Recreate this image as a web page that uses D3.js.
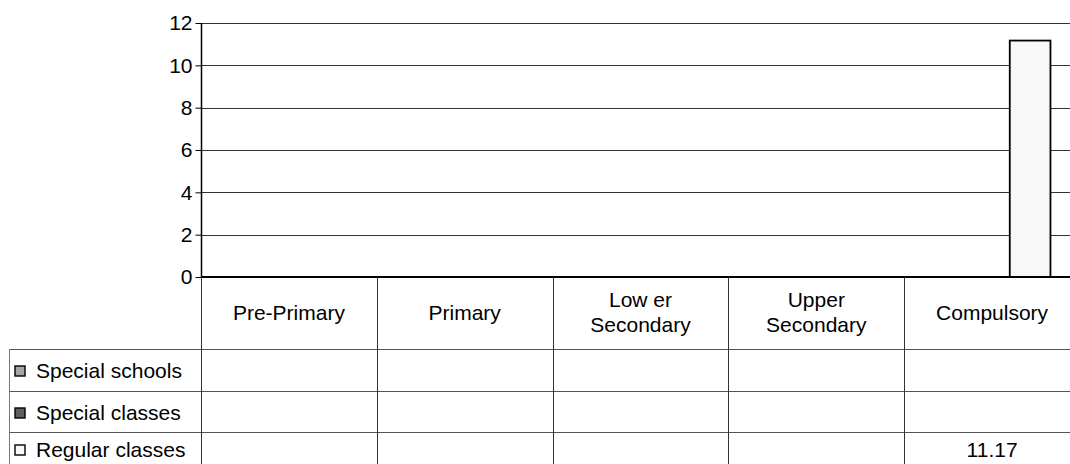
<!DOCTYPE html>
<html>
<head>
<meta charset="utf-8">
<script src="https://cdn.jsdelivr.net/npm/d3@7"></script>
<style>
  html, body { margin: 0; padding: 0; background: #fff; }
  svg { display: block; font-family: "Liberation Sans", Arial, sans-serif; }
</style>
</head>
<body>
<svg id="chart" width="1070" height="464"></svg>
<script>
// ---- data ----
const categories = ["Pre-Primary", "Primary", "Low er\nSecondary", "Upper\nSecondary", "Compulsory"];
const seriesNames = ["Special schools", "Special classes", "Regular classes"];
const specialSchools = [null, null, null, null, null];
const specialClasses = [null, null, null, null, null];
const regularClasses = [null, null, null, null, 11.17];
const yTicks = [0, 2, 4, 6, 8, 10, 12];
const seriesColors = ["#a6a6a6", "#5f5f5f", "#f8f8f8"];

const seriesValues = [specialSchools, specialClasses, regularClasses];

// ---- layout ----
const svg = d3.select("#chart");
const plotLeft = 201, plotRight = 1080, plotTop = 23, plotBottom = 277;
const headerBottom = 349, rowH = 41.7, legendLeft = 9;
const fontSize = 21;

const x = d3.scaleBand().domain(categories).range([plotLeft, plotRight]).paddingInner(0).paddingOuter(0);
const x1 = d3.scaleBand().domain(seriesNames).range([0, x.bandwidth()]).paddingInner(0).paddingOuter(0.66).align(0.45);
const y = d3.scaleLinear().domain([0, 12]).range([plotBottom, plotTop]);

// gridlines
svg.append("g").selectAll("line").data(yTicks.filter(d => d > 0)).join("line")
  .attr("x1", plotLeft).attr("x2", plotRight)
  .attr("y1", d => Math.round(y(d)) + 0.5).attr("y2", d => Math.round(y(d)) + 0.5)
  .attr("stroke", "#333").attr("stroke-width", 1);

// y axis
const yAxis = d3.axisLeft(y).tickValues(yTicks).tickSize(6).tickPadding(3).tickFormat(d3.format("d"));
const gy = svg.append("g").attr("transform", `translate(${plotLeft + 0.5},0)`).call(yAxis);
gy.select(".domain").attr("stroke", "#000").attr("stroke-width", 1.5).attr("d", `M0,${plotTop}V${plotBottom}`);
gy.selectAll(".tick line").attr("stroke", "#000");
gy.selectAll(".tick text").attr("font-size", fontSize).attr("fill", "#000")
  .attr("font-family", "Liberation Sans, Arial, sans-serif");

// bars
seriesNames.forEach((s, si) => {
  const vals = seriesValues[si];
  svg.append("g").selectAll("rect").data(categories.map((c, i) => ({c, v: vals[i]})).filter(d => d.v != null))
    .join("rect")
    .attr("x", d => x(d.c) + x1(s))
    .attr("y", d => y(d.v))
    .attr("width", x1.bandwidth())
    .attr("height", d => y(0) - y(d.v))
    .attr("fill", seriesColors[si])
    .attr("stroke", "#000").attr("stroke-width", 1.8);
});

// zero line
svg.append("line").attr("x1", plotLeft).attr("x2", plotRight)
  .attr("y1", plotBottom).attr("y2", plotBottom)
  .attr("stroke", "#000").attr("stroke-width", 2);

// ---- data table ----
const rowTops = seriesNames.map((s, i) => headerBottom + i * rowH);
const tableBottom = 480;
const hLines = [headerBottom, headerBottom + rowH, headerBottom + 2 * rowH];
svg.append("g").selectAll("line").data(hLines).join("line")
  .attr("x1", legendLeft).attr("x2", plotRight)
  .attr("y1", d => Math.round(d) + 0.5).attr("y2", d => Math.round(d) + 0.5)
  .attr("stroke", "#555").attr("stroke-width", 1);
const vLines = categories.map(c => x(c)).concat([plotRight]);
svg.append("g").selectAll("line").data(vLines).join("line")
  .attr("x1", d => Math.round(d) + 0.5).attr("x2", d => Math.round(d) + 0.5)
  .attr("y1", plotBottom).attr("y2", tableBottom)
  .attr("stroke", "#333").attr("stroke-width", 1);
svg.append("line").attr("x1", legendLeft + 0.5).attr("x2", legendLeft + 0.5)
  .attr("y1", headerBottom).attr("y2", tableBottom)
  .attr("stroke", "#777").attr("stroke-width", 1);

// header labels
categories.forEach(c => {
  const lines = c.split("\n");
  const cx = x(c) + x.bandwidth() / 2;
  const cy = (plotBottom + headerBottom) / 2 - 1;
  const lh = 25;
  const t = svg.append("text").attr("text-anchor", "middle").attr("font-size", fontSize).attr("fill", "#000");
  lines.forEach((ln, i) => {
    t.append("tspan").attr("x", cx)
      .attr("y", cy + (i - (lines.length - 1) / 2) * lh)
      .attr("dominant-baseline", "central").text(ln);
  });
});

// legend rows
seriesNames.forEach((s, si) => {
  const cy = rowTops[si] + rowH / 2;
  const ty = Math.min(cy + 1, 449);
  svg.append("rect").attr("x", 15).attr("y", Math.round(ty - 4.5)).attr("width", 10).attr("height", 10)
    .attr("fill", seriesColors[si]).attr("stroke", "#000").attr("stroke-width", 1.4);
  svg.append("text").attr("x", 36).attr("y", ty).attr("dominant-baseline", "central")
    .attr("font-size", fontSize).attr("fill", "#000").text(s);
  seriesValues[si].forEach((v, i) => {
    if (v == null) return;
    svg.append("text").attr("x", x(categories[i]) + x.bandwidth() / 2).attr("y", ty)
      .attr("text-anchor", "middle").attr("dominant-baseline", "central")
      .attr("font-size", fontSize).attr("fill", "#000").text(d3.format(".2f")(v));
  });
});
</script>
</body>
</html>
